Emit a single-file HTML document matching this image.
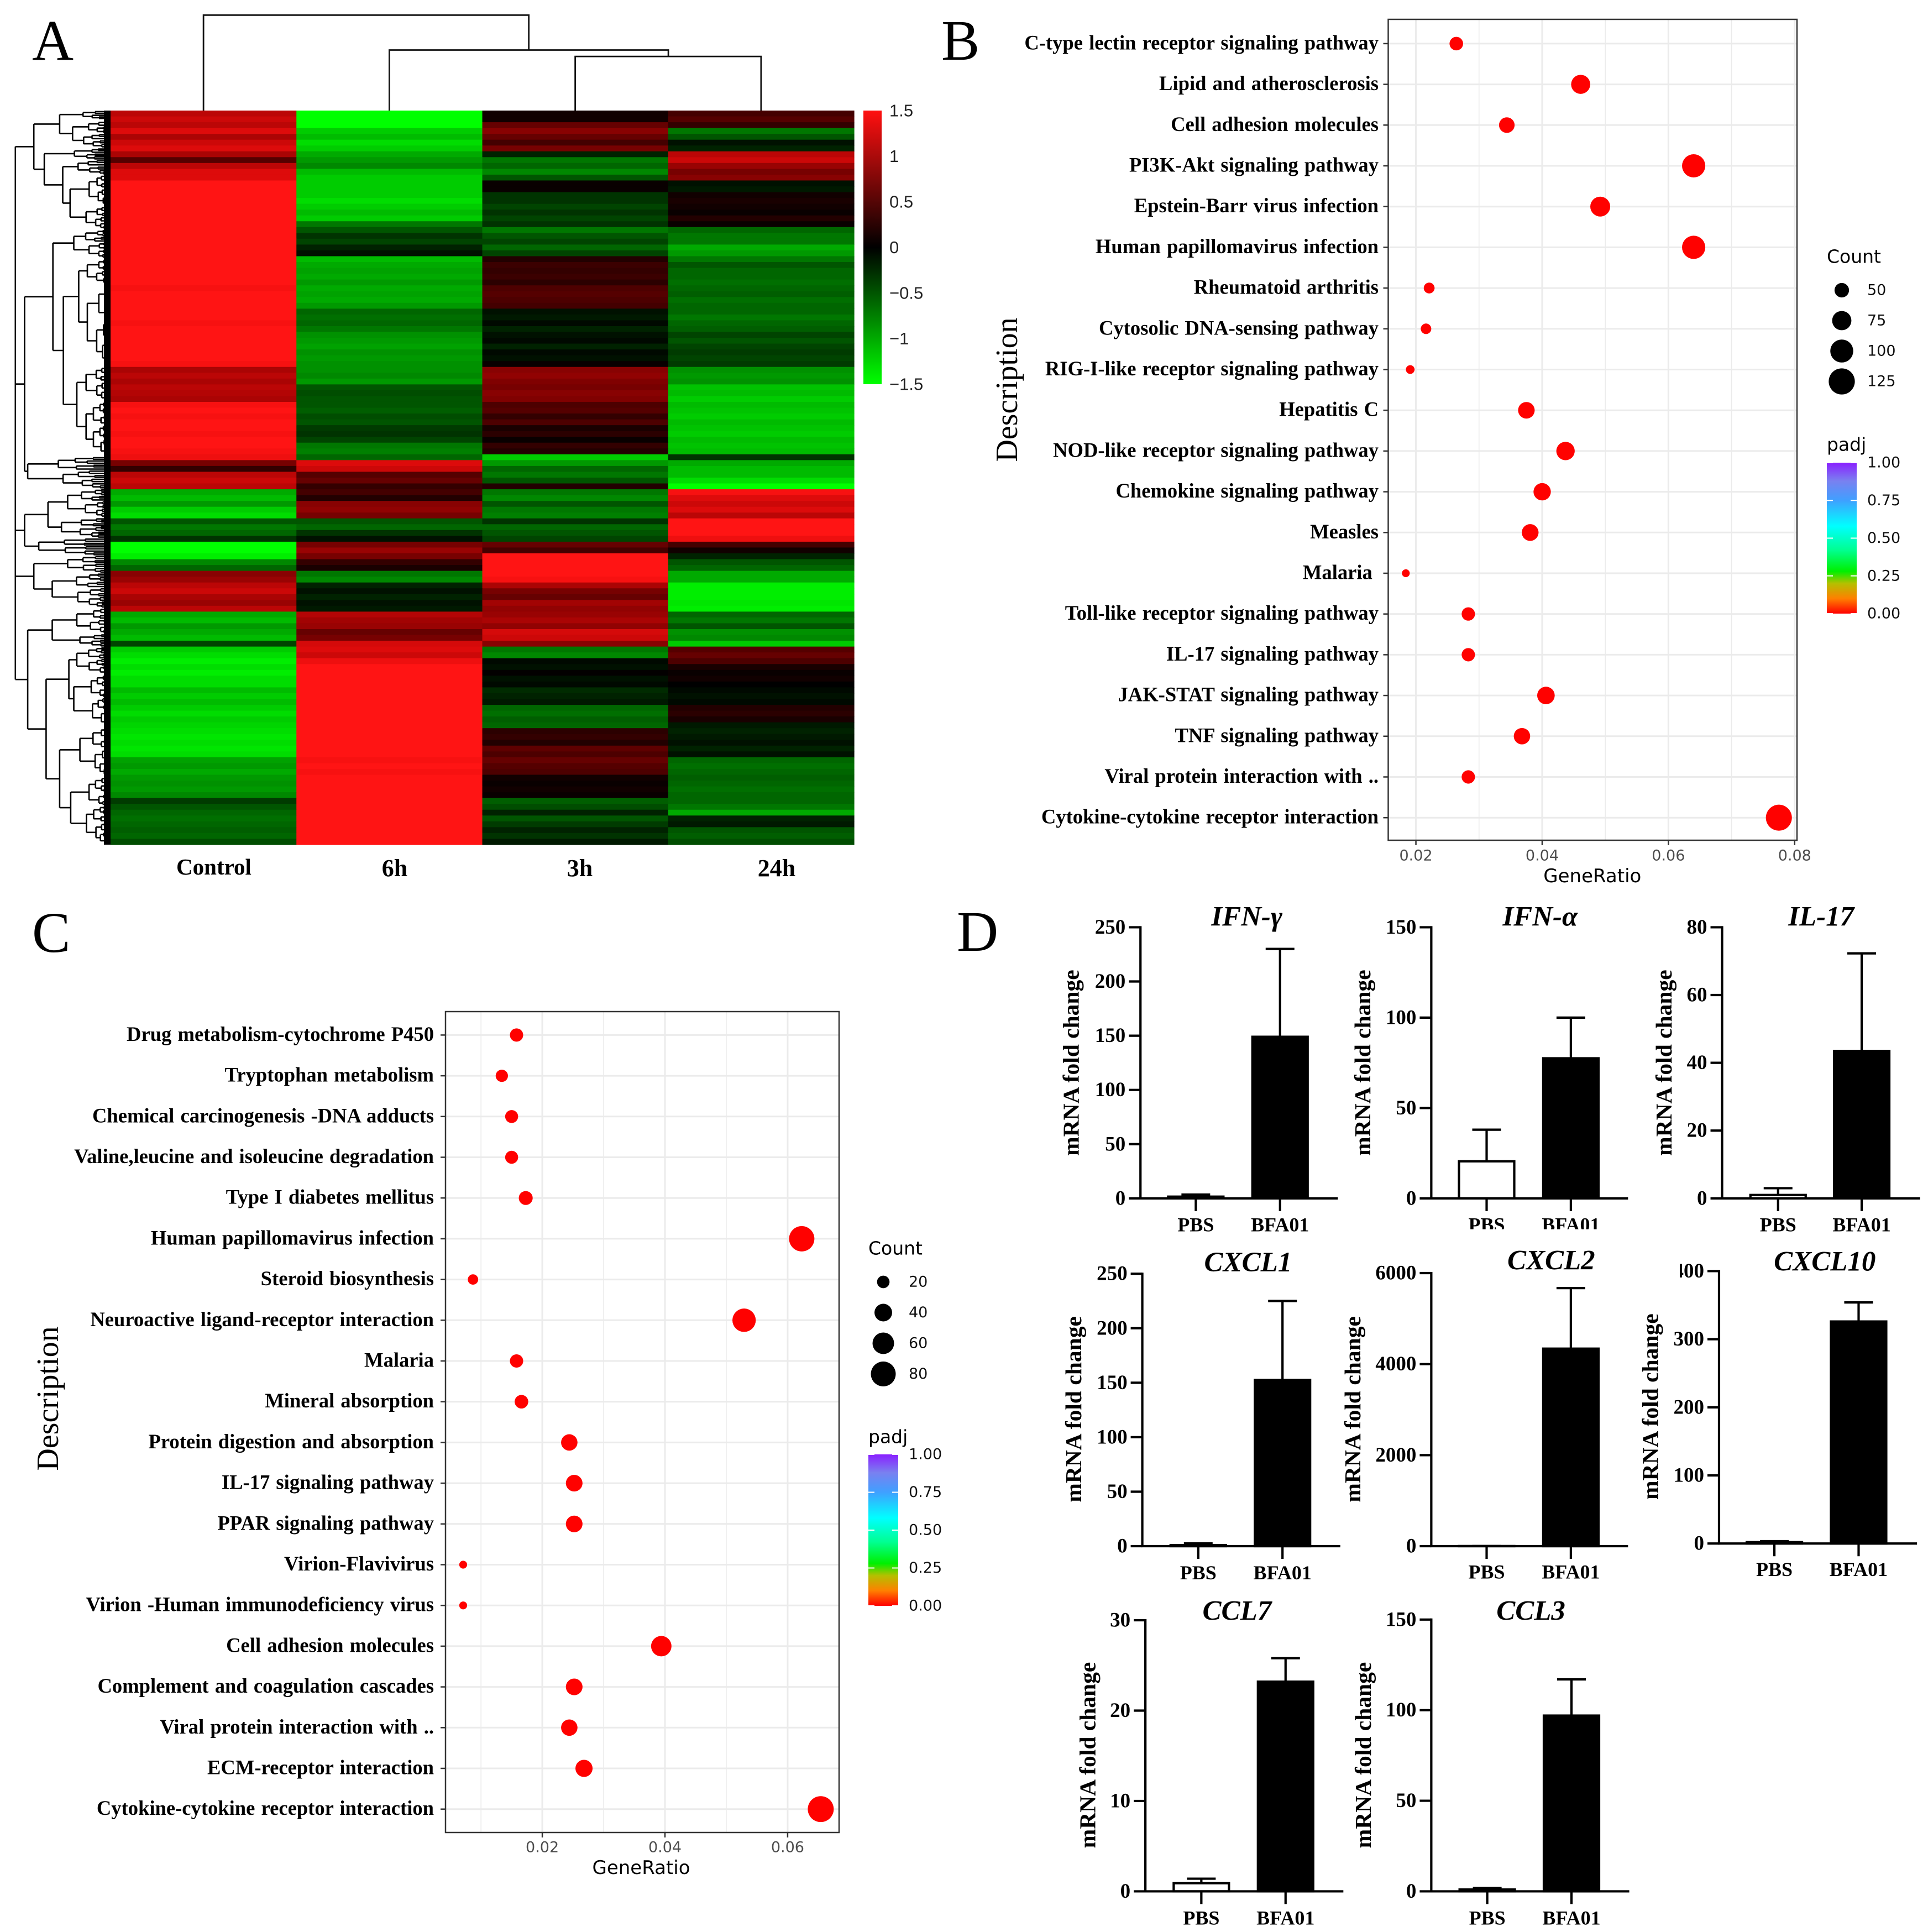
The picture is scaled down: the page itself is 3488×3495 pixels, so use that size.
<!DOCTYPE html>
<html lang="en">
<head>
<meta charset="utf-8">
<title>Multi-panel transcriptome figure</title>
<style>
html,body{margin:0;padding:0;background:#fff;}
svg{display:block;}
.serif{font-family:"Liberation Serif",serif;}
.bold{font-family:"Liberation Serif",serif;font-weight:700;}
.title{font-family:"Liberation Serif",serif;font-weight:700;font-style:italic;}
.sans{font-family:"Liberation Sans",sans-serif;}
.dj{font-family:"DejaVu Sans",sans-serif;}
</style>
</head>
<body>
<svg id="fig" xmlns="http://www.w3.org/2000/svg" width="3488" height="3495" viewBox="0 0 3488 3495">
<defs>
<linearGradient id="heatGrad" x1="0" y1="0" x2="0" y2="1">
<stop offset="0" stop-color="#ff1010"/><stop offset="0.5" stop-color="#000"/><stop offset="1" stop-color="#00ff00"/>
</linearGradient>
<linearGradient id="padjGrad" x1="0" y1="1" x2="0" y2="0">
<stop offset="0" stop-color="#ff0000"/><stop offset="0.1" stop-color="#ff8000"/><stop offset="0.2" stop-color="#b4c000"/><stop offset="0.28" stop-color="#00f000"/><stop offset="0.42" stop-color="#00ff90"/><stop offset="0.58" stop-color="#00ffff"/><stop offset="0.75" stop-color="#3fa0ff"/><stop offset="0.88" stop-color="#7a80f0"/><stop offset="1" stop-color="#8a20ff"/>
</linearGradient>
</defs>
<rect width="3488" height="3495" fill="#fff"/>
<text class="serif" x="58" y="108" font-size="104">A</text>
<text class="serif" x="1703" y="108" font-size="104">B</text>
<text class="serif" x="58" y="1722" font-size="104">C</text>
<text class="serif" x="1731" y="1720" font-size="104">D</text>
<g id="panelA"></g>
<g id="panelB"></g>
<g id="panelC"></g>
<g id="panelD"></g>
</svg>
<script>
/* ---------- Panel A data ---------- */
const heatColumns = ["Control","6h","3h","24h"];
const heatScaleTicks = [1.5,1,0.5,0,-0.5,-1,-1.5];
const heatRows = [
[1.1,-1.5,0.1,0.4],[1.2,-1.5,0.1,0.5],[1.1,-1.5,0.6,0.3],[1.3,-1.2,0.8,-0.7],[1.0,-1.1,0.6,-0.5],[1.2,-1.3,0.4,-0.1],[1.3,-1.2,0.7,-0.2],
[1.0,-1.0,-0.2,1.1],[0.5,-0.9,-0.7,1.2],[1.1,-0.8,-0.6,0.9],[1.3,-1.1,-0.8,0.7],[1.3,-1.2,-0.5,0.8],[1.5,-1.2,0.05,-0.1],[1.5,-1.2,0.05,-0.15],
[1.5,-1.2,-0.3,0.1],[1.5,-1.3,-0.3,0.15],[1.5,-1.2,-0.4,0.1],[1.5,-1.1,-0.3,0.05],[1.5,-1.2,-0.4,0.2],[1.5,-0.7,-0.3,0.05],[1.5,-0.5,-0.7,-0.6],
[1.5,-0.3,-0.5,-0.7],[1.5,-0.4,-0.4,-0.7],[1.5,-0.2,-0.6,-1.0],[1.5,-0.1,-0.4,-0.9],[1.5,-1.1,0.2,-0.7],[1.5,-1.0,0.35,-0.5],[1.5,-0.95,0.3,-0.6],
[1.5,-1.0,0.35,-0.6],[1.5,-0.9,0.25,-0.65],[1.45,-1.0,0.45,-0.6],[1.5,-0.95,0.5,-0.55],[1.5,-1.0,0.45,-0.65],[1.5,-0.9,0.4,-0.6],[1.5,-0.6,-0.1,-0.6],
[1.5,-0.65,-0.15,-0.7],[1.45,-0.6,-0.05,-0.6],[1.5,-0.7,-0.2,-0.55],[1.5,-0.85,-0.1,-0.4],[1.5,-0.9,-0.05,-0.5],[1.5,-0.95,-0.2,-0.4],[1.5,-0.85,-0.05,-0.35],
[1.5,-0.9,-0.1,-0.4],[1.45,-0.85,0.05,-0.35],[1.0,-0.85,0.8,-0.85],[1.1,-0.8,0.85,-0.9],[1.0,-0.9,0.75,-0.85],[1.1,-0.5,0.7,-1.15],[1.05,-0.45,0.8,-1.1],
[1.0,-0.5,0.75,-1.2],[1.45,-0.5,0.45,-1.1],[1.5,-0.55,0.5,-1.15],[1.45,-0.45,0.3,-1.2],[1.5,-0.5,0.45,-1.1],[1.5,-0.35,0.15,-1.15],[1.45,-0.3,0.25,-1.2],
[1.5,-0.4,0.05,-1.1],[1.5,-0.7,0.3,-1.15],[1.45,-0.75,0.2,-1.1],[1.4,-0.6,-1.2,-0.3],[0.7,1.3,-0.9,-1.0],[0.3,1.2,-0.6,-1.1],[1.1,0.5,-0.7,-1.1],
[1.2,0.6,-0.5,-1.3],[1.1,0.3,0.2,-1.5],[-1.0,0.4,-0.7,1.45],[-1.1,0.2,-0.8,1.3],[-0.9,0.8,-0.5,1.2],[-1.2,0.85,-0.7,1.3],[-1.3,0.7,-0.75,1.1],
[-0.5,-0.5,-0.3,1.5],[-0.7,-0.6,-0.6,1.5],[-0.6,-0.3,-0.5,1.5],[-0.3,-0.1,-0.4,1.4],[-1.5,0.7,0.6,0.4],[-1.5,0.9,0.4,0.1],[-1.4,0.7,1.5,-0.2],
[-0.8,0.3,1.5,-0.5],[-0.6,0.15,1.5,-0.6],[0.8,-0.7,1.5,-1.0],[0.9,-0.8,1.45,-1.0],[1.1,-0.2,1.0,-1.4],[1.2,-0.1,0.7,-1.4],[1.0,-0.2,0.6,-1.4],
[0.9,-0.1,0.95,-1.35],[1.1,-0.15,0.85,-1.4],[-1.0,1.05,0.9,-0.6],[-1.1,0.95,1.0,-0.7],[-0.9,0.9,0.85,-0.5],[-1.0,0.6,1.25,-0.85],[-1.1,0.7,1.2,-0.8],
[-0.4,1.25,0.8,-1.2],[-1.2,1.3,-0.7,0.5],[-1.3,1.2,-0.8,0.6],[-1.4,1.4,-0.05,0.45],[-1.3,1.5,-0.1,0.15],[-1.4,1.5,0.02,0.05],[-1.3,1.5,-0.1,0.1],
[-1.3,1.5,-0.05,0.0],[-1.1,1.5,-0.25,-0.05],[-1.2,1.5,-0.2,-0.1],[-1.1,1.5,-0.15,-0.05],[-1.2,1.5,-0.6,0.2],[-1.3,1.5,-0.65,0.25],[-1.2,1.5,-0.55,0.15],
[-1.25,1.5,-0.6,-0.15],[-1.3,1.5,0.25,-0.2],[-1.35,1.5,0.3,-0.15],[-1.3,1.5,0.2,-0.1],[-1.35,1.5,0.55,-0.2],[-1.3,1.5,0.45,-0.1],[-0.95,1.45,0.6,-0.6],
[-0.9,1.5,0.5,-0.65],[-1.0,1.45,0.45,-0.6],[-0.9,1.5,0.1,-0.55],[-0.85,1.5,0.05,-0.6],[-0.9,1.5,0.1,-0.65],[-0.8,1.5,0.05,-0.6],[-0.35,1.5,-0.55,-0.6],
[-0.5,1.5,-0.45,-0.7],[-0.6,1.5,-0.2,-1.0],[-0.65,1.5,-0.5,-0.2],[-0.6,1.5,-0.35,-0.15],[-0.55,1.5,-0.2,-0.5],[-0.6,1.5,-0.3,-0.55],[-0.45,1.5,-0.15,-0.45]
];
/* merge trees: [height, child, child...] or [height, firstRowPos, lastRowPos] for leaf clusters */
const rowTree = [25,
  [55,[97,[135,190,205],[118,[144,208,230],[136,230,255]]],[72,[121,255,275],[102,[127,275,300],[114,[145,300,355],[140,355,395]]]]],
  [40,[86,[120,395,445],[103,[128,[142,445,490],[142,490,630]],[125,[140,630,690],[140,690,785]]]],[45,785,840]],
  [40,[78,[110,840,890],[100,890,925]],[63,925,955]],
  [55,[110,955,985],[85,985,1045]],
  [45,[85,[125,1045,1090],[130,1090,1112]],[75,[112,[125,1112,1160],[120,1160,1250]],[97,[130,1250,1335],[115,1335,1452]]]]
];

/* ---------- Panel B data ---------- */
const bTerms = ["C-type lectin receptor signaling pathway","Lipid and atherosclerosis","Cell adhesion molecules","PI3K-Akt signaling pathway","Epstein-Barr virus infection","Human papillomavirus infection","Rheumatoid arthritis","Cytosolic DNA-sensing pathway","RIG-I-like receptor signaling pathway","Hepatitis C","NOD-like receptor signaling pathway","Chemokine signaling pathway","Measles","Malaria\u00a0","Toll-like receptor signaling pathway","IL-17 signaling pathway","JAK-STAT signaling pathway","TNF signaling pathway","Viral protein interaction with ..","Cytokine-cytokine receptor interaction"];
const bRatio = [0.0264,0.0461,0.0344,0.0640,0.0492,0.0640,0.0221,0.0216,0.0191,0.0375,0.0437,0.0400,0.0381,0.0184,0.0283,0.0283,0.0406,0.0368,0.0283,0.0775];
const bCount = [46,74,55,102,79,102,36,35,30,60,70,64,61,28,45,45,65,59,45,124];
const bPadj = [0.001,0.001,0.001,0.001,0.001,0.001,0.001,0.001,0.001,0.001,0.001,0.001,0.001,0.001,0.001,0.001,0.001,0.001,0.001,0.001];
const bXTicks = [0.02,0.04,0.06,0.08];
const bXMinor = [0.03,0.05,0.07];
const bLegendCounts = [50,75,100,125];

/* ---------- Panel C data ---------- */
const cTerms = ["Drug metabolism-cytochrome P450","Tryptophan metabolism","Chemical carcinogenesis -DNA adducts","Valine,leucine and isoleucine degradation","Type I diabetes mellitus","Human papillomavirus infection","Steroid biosynthesis","Neuroactive ligand-receptor interaction","Malaria","Mineral absorption","Protein digestion and absorption","IL-17 signaling pathway","PPAR signaling pathway","Virion-Flavivirus","Virion -Human immunodeficiency virus","Cell adhesion molecules","Complement and coagulation cascades","Viral protein interaction with ..","ECM-receptor interaction","Cytokine-cytokine receptor interaction"];
const cRatio = [0.0158,0.0134,0.0150,0.0150,0.0173,0.0623,0.0087,0.0529,0.0158,0.0166,0.0244,0.0252,0.0252,0.0071,0.0071,0.0394,0.0252,0.0244,0.0268,0.0654];
const cCount = [19,16,18,18,21,76,11,64,19,20,30,31,31,6,6,48,31,30,33,80];
const cPadj = [0.001,0.001,0.001,0.001,0.001,0.001,0.001,0.001,0.001,0.001,0.001,0.001,0.001,0.001,0.001,0.001,0.001,0.001,0.001,0.001];
const cXTicks = [0.02,0.04,0.06];
const cXMinor = [0.01,0.03,0.05];
const cLegendCounts = [20,40,60,80];
const padjTicks = [1,0.75,0.5,0.25,0];

/* ---------- Panel D data ---------- */
const barGenes = ["IFN-\u03b3","IFN-\u03b1","IL-17","CXCL1","CXCL2","CXCL10","CCL7","CCL3"];
const barGroups = ["PBS","BFA01"];
const barPBS = [1.6,20.5,1,1,2,2,0.9,1];
const barBFA = [149,77.5,43.5,152.5,4340,326,23.2,97];
const errPBS = [3.5,38,3,2.5,2,3.5,1.4,1.8];
const errBFA = [230,100,72.3,225,5670,354,25.8,117];
const barYMax = [250,150,80,250,6000,400,30,150];
const barYTicks = [[0,50,100,150,200,250],[0,50,100,150],[0,20,40,60,80],[0,50,100,150,200,250],[0,2000,4000,6000],[0,100,200,300,400],[0,10,20,30],[0,50,100,150]];

/* layout frames for small multiples (zoomed-view units) */
const barFrames = [
 {ax:287,top:48,bot:458,end:608,pbs:377,bfa:514,tx:460,ty:32,lx:174,ly:253,gy:498,clip:0,cut:0},
 {ax:760,top:48,bot:458,end:1080,pbs:850,bfa:987,tx:937,ty:32,lx:648,ly:253,gy:498,clip:1,cut:0},
 {ax:1233,top:48,bot:458,end:1555,pbs:1324,bfa:1460,tx:1394,ty:32,lx:1138,ly:253,gy:498,clip:0,cut:0},
 {ax:290,top:572,bot:984,end:612,pbs:381,bfa:518,tx:462,ty:555,lx:178,ly:777,gy:1024,clip:0,cut:0},
 {ax:760,top:571,bot:984,end:1080,pbs:850,bfa:987,tx:955,ty:552,lx:632,ly:777,gy:1023,clip:0,cut:0},
 {ax:1228,top:568,bot:980,end:1550,pbs:1318,bfa:1455,tx:1400,ty:554,lx:1116,ly:773,gy:1019,clip:0,cut:1},
 {ax:295,top:1096,bot:1506,end:617,pbs:386,bfa:523,tx:444,ty:1082,lx:201,ly:1300,gy:1546,clip:0,cut:0},
 {ax:760,top:1095,bot:1506,end:1082,pbs:851,bfa:988,tx:922,ty:1082,lx:649,ly:1300,gy:1546,clip:0,cut:0}
];

/* ---------- helpers ---------- */
const NS = "http://www.w3.org/2000/svg";
function mk(tag, attrs, parent){
  const e = document.createElementNS(NS, tag);
  for (const k in attrs) e.setAttribute(k, attrs[k]);
  parent.appendChild(e);
  return e;
}
function label(str, x, y, size, cls, parent, extra){
  const e = mk("text", Object.assign({x:x, y:y, "font-size":size, "class":cls}, extra||{}), parent);
  e.textContent = str;
  return e;
}
function fmtMinus(v){ return v < 0 ? "\u2212" + Math.abs(v) : String(v); }

/* ---------- Panel A ---------- */
(function(){
  const g = document.getElementById("panelA");
  const L = 200, R = 1545, T = 200, B = 1528;
  const colW = (R - L) / heatColumns.length;
  const rowH = (B - T) / heatRows.length;
  function heatColor(v){
    const t = Math.max(-1, Math.min(1, v / 1.5));
    if (t >= 0){
      const w = Math.round(20 * t * t * t * t);
      return "rgb(" + Math.round(255 * t) + "," + w + "," + w + ")";
    }
    return "rgb(0," + Math.round(-255 * t) + ",0)";
  }
  heatRows.forEach(function(row, r){
    row.forEach(function(v, c){
      const cell = mk("rect", {x:L + c * colW, y:T + r * rowH, width:colW + 0.6, height:rowH + 0.6, fill:heatColor(v)}, g);
      
      
    });
  });
  /* column labels */
  const colLabelX = [387, 714, 1049, 1405];
  const colLabelY = [1582, 1585, 1585, 1585];
  const colLabelSize = [41, 44, 44, 44];
  heatColumns.forEach(function(name, c){
    const t = label(name, colLabelX[c], colLabelY[c], colLabelSize[c], "bold", g, {"text-anchor":"middle"});
    
    
  });
  /* column dendrogram */
  const colCentre = function(c){ return L + (c + 0.5) * colW; };
  const yTop = function(d){ return d / 0.95; };
  const dTop = [
    "M", colCentre(0), T, "V", yTop(26), "H", 860/0.899, "V", yTop(86),
    "M", colCentre(1), T, "V", yTop(86), "H", 1087/0.899, "V", yTop(97),
    "M", colCentre(2), T, "V", yTop(97), "H", colCentre(3), "V", T
  ].join(" ");
  const topTree = mk("path", {d:dTop, fill:"none", stroke:"#111", "stroke-width":2.8}, g);
  
  
  /* row dendrogram */
  const px = function(h){ return h / 0.899; };
  const py = function(p){ return p / 0.95; };
  let d = "";
  function seg(x1, y1, x2, y2){ d += "M" + x1.toFixed(1) + " " + y1.toFixed(1) + "L" + x2.toFixed(1) + " " + y2.toFixed(1); }
  function cluster(x, a, b, flip){
    const f = flip ? 0.58 : 0.42;
    const m = a + (b - a) * f;
    const kids = [[a, m],[m, b]];
    const ys = kids.map(function(k, i){
      const h = k[1] - k[0];
      const y0 = (k[0] + k[1]) / 2;
      if (h < 5){ seg(x, y0, L, y0); return y0; }
      const nx = x + (L - x) * (0.3 + 0.22 * (h % 1));
      const yc = cluster(nx, k[0], k[1], !flip === (i === 0));
      seg(x, yc, nx, yc);
      return yc;
    });
    seg(x, ys[0], x, ys[1]);
    return (ys[0] + ys[1]) / 2;
  }
  function walk(node){
    const x = px(node[0]);
    if (typeof node[1] === "number"){
      return {x:x, y:cluster(x, py(node[1]), py(node[2]), false)};
    }
    const ys = node.slice(1).map(function(k){
      const r = walk(k);
      seg(x, r.y, r.x, r.y);
      return r.y;
    });
    seg(x, ys[0], x, ys[ys.length - 1]);
    return {x:x, y:(ys[0] + ys[ys.length - 1]) / 2};
  }
  walk(rowTree);
  const rowPath = mk("path", {d:d, fill:"none", stroke:"#000", "stroke-width":2.6}, g);
  
  
  const band = mk("rect", {x:188, y:T, width:12, height:B - T, fill:"#000"}, g);
  
  
  /* colour bar */
  const cbX = 1562, cbW = 33, cbT = 200, cbB = 695;
  const cb = mk("rect", {x:cbX, y:cbT, width:cbW, height:cbB - cbT, fill:"url(#heatGrad)"}, g);
  
  
  heatScaleTicks.forEach(function(v){
    const y = cbT + (1.5 - v) / 3 * (cbB - cbT);
    const t = label(fmtMinus(v), 1609, y, 31, "sans", g, {"dominant-baseline":"central", fill:"#222"});
    
    
  });
})();

/* ---------- Panels B & C ---------- */
function drawBubble(parent, o){
  const xScale = function(v){ return o.x0 + (v - o.v0) * o.k; };
  const yScale = function(i){ return o.first + i * o.step; };
  const dia = function(c){ return Math.sqrt(Math.max(70, o.a * c + o.b)); };
  const gridColor = "#ebebeb";
  o.minor.forEach(function(v){
    const l = mk("line", {x1:xScale(v), x2:xScale(v), y1:o.T, y2:o.B, stroke:gridColor, "stroke-width":1.6}, parent);
    
    
  });
  o.ticks.forEach(function(v){
    const l = mk("line", {x1:xScale(v), x2:xScale(v), y1:o.T, y2:o.B, stroke:gridColor, "stroke-width":3}, parent);
    
    
  });
  o.terms.forEach(function(term, i){
    const y = yScale(i);
    const l = mk("line", {x1:o.L, x2:o.R, y1:y, y2:y, stroke:gridColor, "stroke-width":3}, parent);
    
    
    const tk = mk("line", {x1:o.L - 9, x2:o.L, y1:y, y2:y, stroke:"#333", "stroke-width":2.5}, parent);
    
    
    const t = label(term, o.labelR, y - 2, o.fs, "bold", parent, {"text-anchor":"end", "dominant-baseline":"central", "word-spacing":"2px"});
    
    
  });
  o.terms.forEach(function(term, i){
    const c = mk("circle", {cx:xScale(o.ratio[i]), cy:yScale(i), r:(dia(o.count[i]) + 3) / 2, fill:"hsl(" + (280 * o.padj[i]) + ",100%,50%)"}, parent);
    
    
  });
  const box = mk("rect", {x:o.L, y:o.T, width:o.R - o.L, height:o.B - o.T, fill:"none", stroke:"#333", "stroke-width":2.5}, parent);
  
  
  o.ticks.forEach(function(v){
    const tk = mk("line", {x1:xScale(v), x2:xScale(v), y1:o.B, y2:o.B + 9, stroke:"#333", "stroke-width":2.5}, parent);
    
    
    const t = label(v.toFixed(2), xScale(v), o.tickY, 27, "dj", parent, {"text-anchor":"middle", "dominant-baseline":"central", fill:"#4d4d4d"});
    
    
  });
  const xt = label("GeneRatio", o.xtX, o.xtY, 34, "dj", parent, {"text-anchor":"middle", "dominant-baseline":"central"});
  
  
  const yt = label("Description", o.ytX, o.ytY, 56, "serif", parent, {"text-anchor":"middle", "dominant-baseline":"central", transform:"rotate(-90 " + o.ytX + " " + o.ytY + ")"});
  
  
  const ct = label("Count", o.lgX, o.cntY, 33, "dj", parent, {"dominant-baseline":"central"});
  
  
  o.legend.forEach(function(v, i){
    const y = o.keyY + i * o.keyStep;
    const c = mk("circle", {cx:o.lgX + 27, cy:y, r:(dia(v) + o.keyExtra) / 2, fill:"#000"}, parent);
    
    
    const t = label(String(v), o.lgLabelX, y, 27, "dj", parent, {"dominant-baseline":"central", fill:"#111"});
    
    
  });
  const pt = label("padj", o.lgX, o.padjY, 33, "dj", parent, {"dominant-baseline":"central"});
  
  
  const bar = mk("rect", {x:o.lgX, y:o.cbT, width:54, height:o.cbB - o.cbT, fill:"url(#padjGrad)"}, parent);
  
  
  padjTicks.forEach(function(v){
    const y = o.cbB - v * (o.cbB - o.cbT);
    const a = mk("line", {x1:o.lgX, x2:o.lgX + 11, y1:y, y2:y, stroke:"#fff", "stroke-width":2}, parent);
    
    
    const b = mk("line", {x1:o.lgX + 43, x2:o.lgX + 54, y1:y, y2:y, stroke:"#fff", "stroke-width":2}, parent);
    
    
    const t = label(v.toFixed(2), o.lgLabelX, y, 27, "dj", parent, {"dominant-baseline":"central", fill:"#111"});
    
    
  });
}
drawBubble(document.getElementById("panelB"), {
  terms:bTerms, ratio:bRatio, count:bCount, padj:bPadj, ticks:bXTicks, minor:bXMinor, legend:bLegendCounts,
  L:2511.5, R:3251, T:35, B:1520, first:78.9, step:73.7, fs:36.6, labelR:2494,
  x0:1744 + 735/0.899, v0:0.02, k:205.33/0.899/0.02, a:18.9, b:-404, keyExtra:3,
  tickY:1548, xtX:1744 + 1022/0.899, xtY:1585, ytX:1822, ytY:705,
  lgX:3305, cntY:464, keyY:525, keyStep:55, lgLabelX:3378, padjY:804, cbT:837, cbB:1110
});
drawBubble(document.getElementById("panelC"), {
  terms:cTerms, ratio:cRatio, count:cCount, padj:cPadj, ticks:cXTicks, minor:cXMinor, legend:cLegendCounts,
  L:806, R:1518, T:1830, B:3315, first:1872.4, step:73.7, fs:36.6, labelR:785,
  x0:882/0.899, v0:0.02, k:199.5/0.899/0.02, a:24.4, b:-20, keyExtra:1,
  tickY:3342, xtX:1160, xtY:3379, ytX:87, ytY:2530,
  lgX:1571, cntY:2258, keyY:2319, keyStep:55.5, lgLabelX:1644, padjY:2599, cbT:2631, cbB:2905
});

/* ---------- Panel D ---------- */
(function(){
  const g = document.getElementById("panelD");
  const X = function(d){ return 1744 + d / 0.899; };
  const Y = function(d){ return 1620 + d / 0.836; };
  const SW = 4.2;
  barGenes.forEach(function(gene, i){
    const f = barFrames[i];
    const yv = function(v){ return Y(f.bot) - v / barYMax[i] * (Y(f.bot) - Y(f.top)); };
    const axisX = X(f.ax), base = Y(f.bot), barW = 100;
    [[f.pbs, errPBS[i], barPBS[i]], [f.bfa, errBFA[i], barBFA[i]]].forEach(function(s){
      const cx = X(s[0]);
      const ln = mk("line", {x1:cx, x2:cx, y1:yv(s[2]), y2:yv(s[1]), stroke:"#000", "stroke-width":SW}, g);
      
      
      const cap = mk("line", {x1:cx - 26, x2:cx + 26, y1:yv(s[1]), y2:yv(s[1]), stroke:"#000", "stroke-width":SW}, g);
      
      
    });
    const pbs = mk("rect", {x:X(f.pbs) - barW / 2, y:yv(barPBS[i]), width:barW, height:base - yv(barPBS[i]), fill:"#fff", stroke:"#000", "stroke-width":SW}, g);
    
    
    const bfa = mk("rect", {x:X(f.bfa) - barW / 2, y:yv(barBFA[i]), width:barW, height:base - yv(barBFA[i]), fill:"#000", stroke:"#000", "stroke-width":SW}, g);
    
    
    const yAxis = mk("line", {x1:axisX, x2:axisX, y1:Y(f.top) - 2, y2:base + 2, stroke:"#000", "stroke-width":SW}, g);
    
    
    const xAxis = mk("line", {x1:axisX - 2, x2:X(f.end), y1:base, y2:base, stroke:"#000", "stroke-width":SW}, g);
    
    
    barYTicks[i].forEach(function(v){
      const tk = mk("line", {x1:axisX - 21, x2:axisX, y1:yv(v), y2:yv(v), stroke:"#000", "stroke-width":SW}, g);
      
      
      const t = label(String(v), axisX - 27, yv(v), 37, "bold", g, {"text-anchor":"end", "dominant-baseline":"central"});
      
      
    });
    if (f.cut){
      const cutMask = mk("rect", {x:axisX - 92, y:Y(f.top) - 26, width:21, height:52, fill:"#fff"}, g);
      
      
    }
    [f.pbs, f.bfa].forEach(function(c, k){
      const tk = mk("line", {x1:X(c), x2:X(c), y1:base, y2:base + 23, stroke:"#000", "stroke-width":SW}, g);
      
      
      const t = label(barGroups[k], X(c), Y(f.gy), 36, "bold", g, {"text-anchor":"middle", "dominant-baseline":"central"});
      
      
    });
    if (f.clip){
      const mask = mk("rect", {x:X(f.ax) + 40, y:Y(f.gy) + 8, width:X(f.end) - X(f.ax), height:26, fill:"#fff"}, g);
      
      
    }
    const tt = label(gene, X(f.tx), Y(f.ty), 51, "title", g, {"text-anchor":"middle", "dominant-baseline":"central"});
    
    
    const yl = label("mRNA fold change", X(f.lx), Y(f.ly), 41.5, "bold", g, {"text-anchor":"middle", "dominant-baseline":"central", transform:"rotate(-90 " + X(f.lx) + " " + Y(f.ly) + ")"});
    
    
  });
})();
</script>
</body>
</html>
